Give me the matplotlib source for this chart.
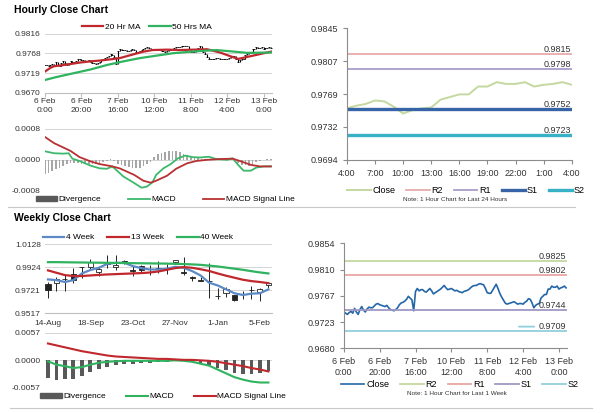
import matplotlib

matplotlib.use("Agg")
import matplotlib.pyplot as plt
from matplotlib.lines import Line2D
from matplotlib.patches import Patch, Rectangle
import matplotlib.transforms as mtransforms

plt.rcParams["font.family"] = ["Liberation Sans", "DejaVu Sans"]
plt.rcParams["font.size"] = 6

# ---- hourly data: 6 Feb 0:00 .. 13 Feb 4:00 (trading hours) ----
hourly_close = [
    0.9740, 0.9738, 0.9736, 0.9739, 0.9741, 0.9738, 0.9746, 0.9740, 0.9736, 0.9744,
    0.9749, 0.9743, 0.9740, 0.9745, 0.9748, 0.9747, 0.9747, 0.9750, 0.9753, 0.9754,
    0.9752, 0.9751, 0.9750, 0.9749, 0.9751, 0.9747, 0.9744, 0.9743, 0.9742, 0.9744,
    0.9747, 0.9752, 0.9755, 0.9756, 0.9758, 0.9761, 0.9766, 0.9763, 0.9760, 0.9742,
    0.9774, 0.9779, 0.9775, 0.9777, 0.9777, 0.9774, 0.9773, 0.9776, 0.9779, 0.9775,
    0.9770, 0.9772, 0.9774, 0.9776, 0.9778, 0.9781, 0.9784, 0.9780, 0.9777, 0.9778,
    0.9779, 0.9777, 0.9775, 0.9776, 0.9774, 0.9773, 0.9772, 0.9774, 0.9775, 0.9776,
    0.9778, 0.9781, 0.9783, 0.9784, 0.9784, 0.9786, 0.9787, 0.9786, 0.9785, 0.9779,
    0.9772, 0.9771, 0.9771, 0.9776, 0.9781, 0.9786, 0.9779, 0.9771, 0.9765, 0.9760,
    0.9755, 0.9753, 0.9754, 0.9755, 0.9756, 0.9757, 0.9755, 0.9753, 0.9754, 0.9754,
    0.9753, 0.9756, 0.9758, 0.9762, 0.9761, 0.9755, 0.9747, 0.9751, 0.9753, 0.9754,
    0.9763, 0.9766, 0.9769, 0.9769, 0.9778, 0.9778, 0.9783, 0.9781, 0.9781, 0.9783,
    0.9778, 0.9780, 0.9781, 0.9783, 0.9780,
]
hourly_ticks = [0, 20, 40, 60, 80, 100, 120]
hourly_tick_labels = ["6 Feb\n0:00", "6 Feb\n20:00", "7 Feb\n16:00", "10 Feb\n12:00",
                      "11 Feb\n8:00", "12 Feb\n4:00", "13 Feb\n0:00"]

ma20_x = [0, 3, 5, 12, 19, 25, 30, 36, 41, 45, 49, 54, 59, 67, 74, 82, 89, 96, 106, 114, 124]
ma20 = [0.9723, 0.9732, 0.9736, 0.9740, 0.9745, 0.9748, 0.9750, 0.9753, 0.9756, 0.9761,
        0.9766, 0.9772, 0.9776, 0.9777, 0.9776, 0.9777, 0.9778, 0.9770, 0.9754, 0.9762, 0.9772]
ma50_x = [0, 6, 16, 25, 34, 43, 52, 61, 70, 80, 87, 94, 104, 111, 124]
ma50 = [0.9702, 0.9709, 0.9719, 0.9728, 0.9739, 0.9748, 0.9756, 0.9762, 0.9768, 0.9772,
        0.9774, 0.9776, 0.9772, 0.9769, 0.9770]

macd_x = [0, 5, 10, 13, 15, 19, 25, 30, 34, 37, 40, 43, 49, 53, 56, 59, 61, 65, 69, 73,
          77, 81, 85, 90, 94, 100, 103, 106, 109, 113, 116, 120, 124]
macd_h = [0.00022, 0.00017, 0.00016, 0.00017, 0.00003, -0.00003, -0.00015, -0.00022, -0.00023,
          -0.00017, -0.00030, -0.00043, -0.00060, -0.00072, -0.00069, -0.00058, -0.00039,
          -0.00022, -0.00011, 0.00004, 0.00011, 0.00007, 0.00006, 0.00008, 0.00002, 0.0,
          0.00004, -0.00013, -0.00028, -0.00028, -0.00020, -0.00017, -0.00017]
sig_x = [0, 5, 10, 14, 19, 25, 30, 36, 41, 49, 54, 58, 61, 67, 72, 78, 83, 89, 96, 103,
         107, 113, 118, 124]
sig_h = [0.00059, 0.00043, 0.00032, 0.00023, 0.00007, -0.00004, -0.00011, -0.00016, -0.00022,
         -0.00039, -0.00054, -0.00059, -0.00054, -0.00041, -0.00023, -0.00009, -0.00003, 0.0,
         0.00002, 0.00003, -0.00003, -0.00013, -0.00017, -0.00017]
div_x = list(range(0, 125, 2))
div_h = [-0.00037, -0.00034, -0.00030, -0.00024, -0.00020, -0.00016, -0.00012, -0.00009,
         -0.00008, -0.00009, -0.00010, -0.00010, -0.00011, -0.00011, -0.00010, -0.00009,
         -0.00006, -0.00002, 0.00001, -0.00004, -0.00010, -0.00014, -0.00016, -0.00018,
         -0.00020, -0.00021, -0.00020, -0.00017, -0.00012, -0.00005, 0.00008, 0.00015,
         0.00018, 0.00021, 0.00023, 0.00024, 0.00023, 0.00021, 0.00016, 0.00012, 0.00008,
         0.00006, 0.00004, 0.00003, 0.00002, 0.00002, 0.00001, 0.00001, 0.00000, -0.00001,
         0.00001, 0.00002, 0.00001, -0.00008, -0.00013, -0.00014, -0.00015, -0.00012,
         -0.00006, -0.00002, 0.00000, 0.00001, 0.00001]

# last 24 hours, 12 Feb 4:00 .. 13 Feb 4:00
day_labels = ["4:00", "7:00", "10:00", "13:00", "16:00", "19:00", "22:00", "1:00", "4:00"]
day_levels = {"R2": 0.9815, "R1": 0.9798, "S1": 0.9752, "S2": 0.9723}
week_levels = {"R2": 0.9825, "R1": 0.9802, "S1": 0.9744, "S2": 0.9709}

# ---- weekly data: 14-Aug .. 12-Feb ----
wk_open = [0.9770, 0.9782, 0.9818, 0.9860, 0.9922, 0.9927, 0.9880, 0.9953, 0.9921, 0.9979,
           0.9895, 0.9930, 0.9911, 0.9918, 0.9910, 0.9965, 0.9879, 0.9840, 0.9806, 0.9800,
           0.9670, 0.9697, 0.9673, 0.9686, 0.9720, 0.9703, 0.9762]
wk_high = [0.9792, 0.9836, 0.9860, 0.9918, 0.9927, 0.9992, 0.9927, 1.0027, 1.0027, 0.9985,
           0.9933, 0.9940, 0.9939, 0.9974, 0.9948, 0.9990, 1.0015, 0.9845, 0.9835, 0.9959,
           0.9742, 0.9745, 0.9680, 0.9710, 0.9756, 0.9742, 0.9790]
wk_low = [0.9654, 0.9712, 0.9712, 0.9786, 0.9830, 0.9903, 0.9845, 0.9918, 0.9898, 0.9950,
          0.9845, 0.9880, 0.9850, 0.9874, 0.9865, 0.9960, 0.9850, 0.9800, 0.9800, 0.9653,
          0.9639, 0.9660, 0.9625, 0.9640, 0.9642, 0.9624, 0.9740]
wk_close = [0.9725, 0.9822, 0.9822, 0.9809, 0.9925, 0.9971, 0.9909, 0.9965, 0.9944, 0.9965,
            0.9892, 0.9901, 0.9909, 0.9910, 0.9908, 0.9985, 0.9876, 0.9830, 0.9804, 0.9798,
            0.9667, 0.9732, 0.9636, 0.9684, 0.9717, 0.9727, 0.9786]
ma4 = [0.9815, 0.9809, 0.9792, 0.9809, 0.9868, 0.9898, 0.9918, 0.9953, 0.9962, 0.9962,
       0.9933, 0.9915, 0.9903, 0.9903, 0.9909, 0.9927, 0.9918, 0.9889, 0.9850, 0.9786,
       0.9762, 0.9727, 0.9692, 0.9677, 0.9689, 0.9692, 0.9727]
ma13 = [0.9895, 0.9874, 0.9853, 0.9845, 0.9845, 0.9850, 0.9855, 0.9859, 0.9862, 0.9865,
        0.9868, 0.9871, 0.9876, 0.9885, 0.9900, 0.9915, 0.9924, 0.9918, 0.9905, 0.9890,
        0.9868, 0.9848, 0.9830, 0.9812, 0.9800, 0.9792, 0.9782]
ma40 = [0.9968, 0.9968, 0.9967, 0.9966, 0.9965, 0.9964, 0.9963, 0.9962, 0.9961, 0.9960,
        0.9959, 0.9958, 0.9957, 0.9956, 0.9955, 0.9953, 0.9951, 0.9948, 0.9944, 0.9937,
        0.9930, 0.9920, 0.9910, 0.9900, 0.9888, 0.9877, 0.9868]
wk_macd = [-0.0002, -0.0009, -0.0012, -0.0016, -0.0014, -0.0009, -0.0005, -0.0003, -0.0002,
           -0.0001, -0.0001, -0.0001, -0.0001, -0.0001, -0.0001, 0.0000, -0.0001, -0.0003,
           -0.0007, -0.0011, -0.0019, -0.0027, -0.0035, -0.0040, -0.0044, -0.0046, -0.0046]
wk_signal = [0.0035, 0.0031, 0.0027, 0.0023, 0.0019, 0.0016, 0.0013, 0.0010, 0.0008, 0.0007,
             0.0006, 0.0005, 0.0004, 0.0003, 0.0003, 0.0002, 0.0001, 0.0001, 0.0000, -0.0001,
             -0.0003, -0.0006, -0.0009, -0.0012, -0.0016, -0.0019, -0.0023]
wk_ticks = [0, 5, 10, 15, 20, 25]
wk_tick_labels = ["14-Aug", "18-Sep", "23-Oct", "27-Nov", "1-Jan", "5-Feb"]

RED, GREEN, BLUE = "#c0282d", "#2fb35f", "#5b8ac6"
GRID, SPINE, TXT = "#d4d4d4", "#8c8c8c", "#333333"


def grid_axes(ax, ticks, labels):
    for s in ax.spines.values():
        s.set_visible(False)
    ax.set_yticks(ticks)
    ax.set_yticklabels(labels)
    ax.grid(axis="y", color=GRID, lw=0.7)
    ax.set_axisbelow(True)
    ax.tick_params(axis="y", length=0, pad=3, colors=TXT)
    ax.tick_params(axis="x", length=0, colors=TXT)


def level_axes(ax):
    for k in ("top", "right"):
        ax.spines[k].set_visible(False)
    for k in ("left", "bottom"):
        ax.spines[k].set_color(SPINE)
        ax.spines[k].set_linewidth(0.8)
    ax.tick_params(length=3, color=SPINE, colors=TXT, labelsize=6.5)


def level_labels(ax, levels):
    tr = mtransforms.blended_transform_factory(ax.transAxes, ax.transData)
    out = {}
    for k, v in levels.items():
        out[k] = ax.text(0.995, v, f"{v:.4f}", transform=tr, ha="right", va="bottom",
                         fontsize=6.5, color=TXT)
    return out


fig = plt.figure(figsize=(6, 4.13), dpi=100)

fig.text(0.023, 0.976, "Hourly Close Chart", fontsize=7.5, fontweight="bold", va="center")
fig.text(0.023, 0.472, "Weekly Close Chart", fontsize=7.5, fontweight="bold", va="center")
fig.add_artist(Line2D([0.013, 0.958], [0.499, 0.499], color="#c8c8c8", lw=0.8))
fig.add_artist(Line2D([0.017, 0.987], [0.011, 0.011], color="#c8c8c8", lw=0.8))

# ---- hourly candles + MAs ----
ax1 = fig.add_axes([0.075, 0.775, 0.378, 0.143])
grid_axes(ax1, [0.9670, 0.9719, 0.9768, 0.9816], ["0.9670", "0.9719", "0.9768", "0.9816"])
opens = [hourly_close[0]] + hourly_close[:-1]
lo = [min(o, c) for o, c in zip(opens, hourly_close)]
hi = [max(o, c) for o, c in zip(opens, hourly_close)]
ax1.vlines(range(len(hourly_close)), lo, hi, color="black", lw=0.8)
ax1.scatter(range(len(hourly_close)), hourly_close, marker="_", s=4, color="black", lw=0.6)
ax1.plot(ma20_x, ma20, color=RED, lw=1.6, label="20 Hr MA")
ax1.plot(ma50_x, ma50, color=GREEN, lw=1.6, label="50 Hrs MA")
ax1.set_ylim(0.9670, 0.9816)
ax1.set_xlim(0, 124.5)
ax1.set_xticks(hourly_ticks)
ax1.set_xticklabels(hourly_tick_labels, linespacing=1.4)
ax1.spines["bottom"].set_visible(True)
ax1.spines["bottom"].set_color("#bfbfbf")
ax1.tick_params(axis="x", length=3, color="#bfbfbf", pad=1)
ax1.legend(loc="lower center", bbox_to_anchor=(0.45, 0.99), ncol=2, frameon=False,
           fontsize=6, handlelength=2.6, columnspacing=1.0, borderaxespad=0, handletextpad=0.2)

# ---- hourly MACD ----
ax2 = fig.add_axes([0.075, 0.538, 0.378, 0.150])
grid_axes(ax2, [-0.0008, 0.0, 0.0008], ["-0.0008", "0.0000", "0.0008"])
ax2.bar(div_x, div_h, width=0.9, color="#a6a6a6", label="Divergence")
ax2.plot(macd_x, macd_h, color="#3cb96a", lw=1.3, label="MACD")
ax2.plot(sig_x, sig_h, color="#b83032", lw=1.3, label="MACD Signal Line")
ax2.set_ylim(-0.0008, 0.0008)
ax2.set_xlim(0, 124.5)
ax2.set_xticks([])
h2 = [Patch(color="#595959"), Line2D([], [], color="#3cb96a", lw=1.3),
      Line2D([], [], color="#b83032", lw=1.3)]
ax2.legend(h2, ["Divergence", "MACD", "MACD Signal Line"], loc="upper center",
           bbox_to_anchor=(0.53, 0.0), ncol=3, frameon=False, fontsize=6, handlelength=2.6,
           handleheight=0.6, columnspacing=3.2, borderaxespad=0.2, handletextpad=0.2)

# ---- last 24 hours with levels ----
ax3 = fig.add_axes([0.578, 0.613, 0.375, 0.319])
level_axes(ax3)
day_close = hourly_close[100:]
ax3.plot(range(len(day_close)), day_close, color="#c4d89f", lw=1.4, label="Close")
ax3.axhline(day_levels["R2"], color="#e8abab", lw=1.3, label="R2")
ax3.axhline(day_levels["R1"], color="#a89dc9", lw=1.3, label="R1")
ax3.axhline(day_levels["S1"], color="#3763a7", lw=2.4, label="S1")
ax3.axhline(day_levels["S2"], color="#37b1c6", lw=2.4, label="S2")
level_labels(ax3, day_levels)
ax3.set_xlim(0, 24)
ax3.set_ylim(0.9694, 0.9845)
ax3.set_xticks(range(0, 25, 3))
ax3.set_xticklabels(day_labels)
ax3.set_yticks([0.9694, 0.9732, 0.9769, 0.9807, 0.9845])
ax3.set_yticklabels(["0.9694", "0.9732", "0.9769", "0.9807", "0.9845"])
ax3.legend(loc="upper center", bbox_to_anchor=(0.53, -0.17), ncol=5, frameon=False,
           fontsize=6.5, handlelength=2.6, columnspacing=1.2, borderaxespad=0, handletextpad=0.2)
fig.text(0.758, 0.516, "Note: 1 Hour Chart for Last 24 Hours", fontsize=4.6, ha="center",
         va="center", color=TXT)

# ---- weekly candles + MAs ----
ax4 = fig.add_axes([0.075, 0.242, 0.378, 0.167])
grid_axes(ax4, [0.9517, 0.9721, 0.9924, 1.0128], ["0.9517", "0.9721", "0.9924", "1.0128"])
wk_x = range(len(wk_close))
ax4.vlines(wk_x, wk_low, wk_high, color="#222222", lw=0.7, zorder=2)
for i, (o, c) in enumerate(zip(wk_open, wk_close)):
    ax4.add_patch(Rectangle((i - 0.3, min(o, c)), 0.6, abs(c - o),
                            facecolor="white" if c >= o else "#222222",
                            edgecolor="#222222", lw=0.6, zorder=3))
ax4.plot(wk_x, ma4, color=BLUE, lw=1.6, label="4 Week", zorder=4)
ax4.plot(wk_x, ma13, color=RED, lw=1.6, label="13 Week", zorder=4)
ax4.plot(wk_x, ma40, color=GREEN, lw=1.6, label="40 Week", zorder=4)
ax4.set_ylim(0.9517, 1.0128)
ax4.set_xlim(-0.35, 26.4)
ax4.set_xticks(wk_ticks)
ax4.set_xticklabels(wk_tick_labels)
ax4.spines["bottom"].set_visible(True)
ax4.spines["bottom"].set_color("#bfbfbf")
ax4.tick_params(axis="x", pad=5)
ax4.legend(loc="lower center", bbox_to_anchor=(0.41, 0.99), ncol=3, frameon=False,
           fontsize=6, handlelength=2.6, columnspacing=1.6, borderaxespad=0, handletextpad=0.2)

# ---- weekly MACD ----
ax5 = fig.add_axes([0.075, 0.061, 0.378, 0.133])
grid_axes(ax5, [-0.0057, 0.0, 0.0057], ["-0.0057", "0.0000", "0.0057"])
wk_div = [m - s for m, s in zip(wk_macd, wk_signal)]
ax5.bar(wk_x, wk_div, width=0.45, color="#595959", label="Divergence")
ax5.plot(wk_x, wk_macd, color="#2fb35f", lw=1.5, label="MACD")
ax5.plot(wk_x, wk_signal, color="#c0282d", lw=1.5, label="MACD Signal Line")
ax5.set_ylim(-0.0057, 0.0057)
ax5.set_xlim(-0.35, 26.4)
ax5.set_xticks([])
h5 = [Patch(color="#595959"), Line2D([], [], color="#2fb35f", lw=1.5),
      Line2D([], [], color="#c0282d", lw=1.5)]
ax5.legend(h5, ["Divergence", "MACD", "MACD Signal Line"], loc="upper center",
           bbox_to_anchor=(0.52, 0.0), ncol=3, frameon=False, fontsize=6, handlelength=2.6,
           handleheight=0.6, columnspacing=2.4, borderaxespad=0.2, handletextpad=0.2)

# ---- last week with levels ----
ax6 = fig.add_axes([0.573, 0.157, 0.372, 0.254])
level_axes(ax6)
ax6.plot(range(len(hourly_close)), hourly_close, color="#2466a8", lw=1.2, label="Close")
ax6.axhline(week_levels["R2"], color="#c4d89f", lw=1.3, label="R2")
ax6.axhline(week_levels["R1"], color="#eaa5a5", lw=1.3, label="R1")
ax6.axhline(week_levels["S1"], color="#a197c6", lw=1.3, label="S1")
ax6.axhline(week_levels["S2"], color="#93cfdc", lw=1.3, label="S2")
wl = level_labels(ax6, week_levels)
ax6.annotate("", xy=(0, 0.45), xycoords=wl["S2"], xytext=(-14, 0), textcoords="offset points",
             arrowprops=dict(arrowstyle="-", color="#93cfdc", lw=1.3, shrinkA=0, shrinkB=3))
ax6.set_xlim(0, 124.5)
ax6.set_ylim(0.9680, 0.9854)
ax6.set_xticks(hourly_ticks)
ax6.set_xticklabels(hourly_tick_labels, linespacing=1.3)
ax6.set_yticks([0.9680, 0.9723, 0.9767, 0.9810, 0.9854])
ax6.set_yticklabels(["0.9680", "0.9723", "0.9767", "0.9810", "0.9854"])
ax6.legend(loc="upper center", bbox_to_anchor=(0.52, -0.27), ncol=5, frameon=False,
           fontsize=6.5, handlelength=2.6, columnspacing=1.2, borderaxespad=0, handletextpad=0.2)
fig.text(0.762, 0.048, "Note: 1 Hour Chart for Last 1 Week", fontsize=4.6, ha="center",
         va="center", color=TXT)

fig.savefig("out.png", dpi=100)
